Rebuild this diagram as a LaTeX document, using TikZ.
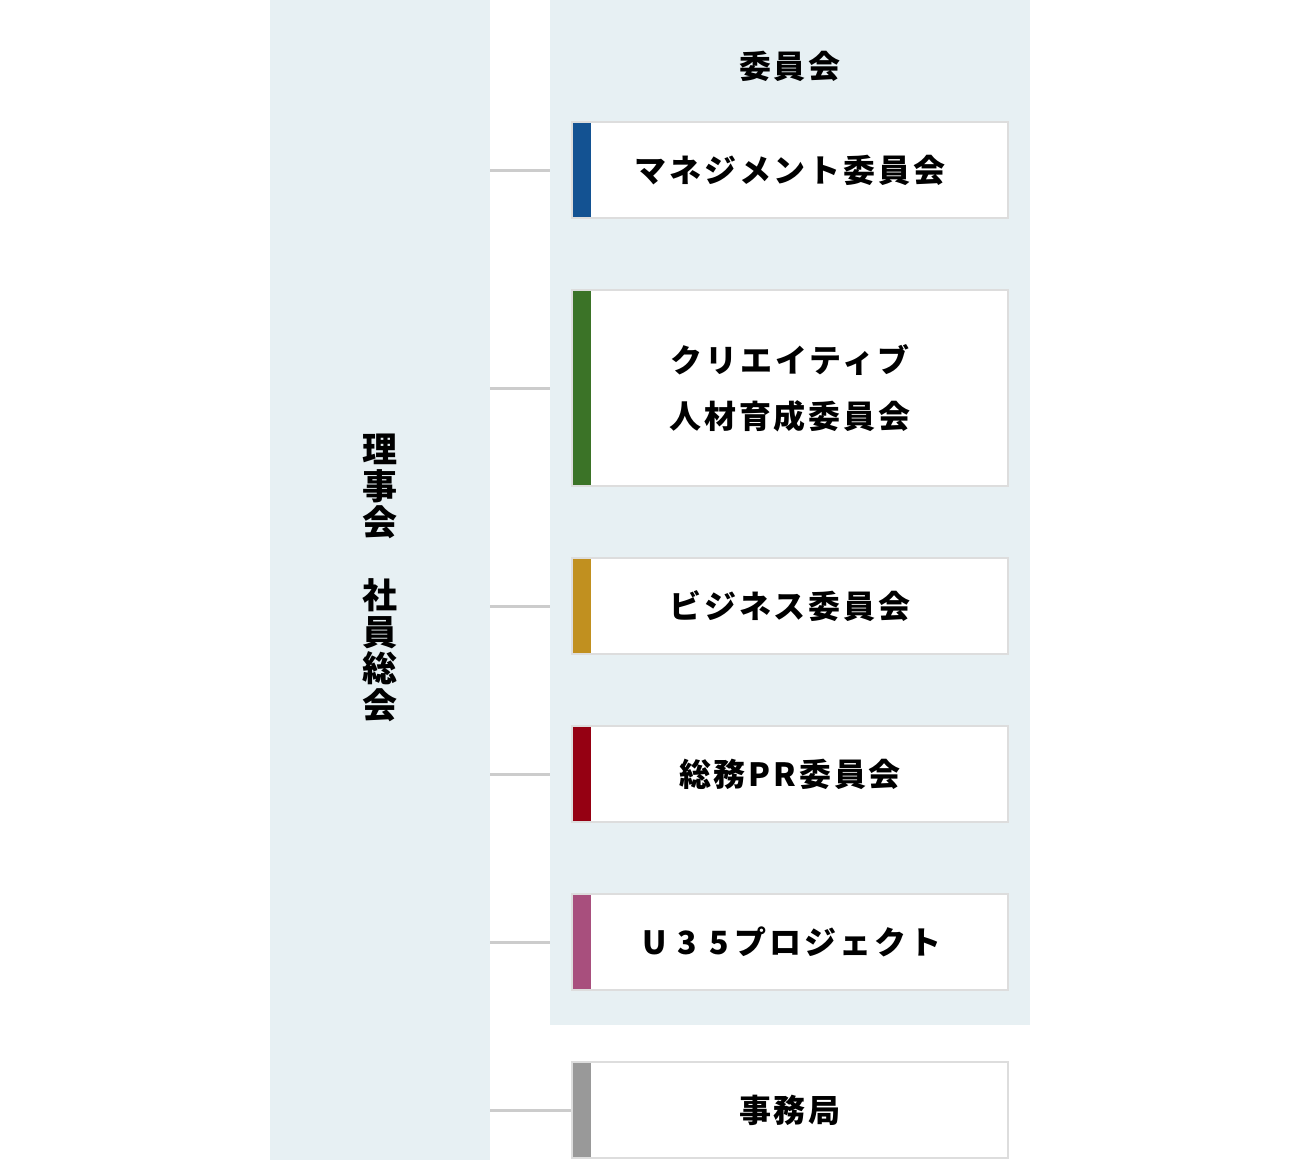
\documentclass[tikz,border=0pt]{standalone}
\usepackage{fontspec}
\setmainfont{Noto Sans CJK JP}[LetterSpace=9]
\usetikzlibrary{positioning}
\definecolor{panelbg}{HTML}{E7F0F3}
\definecolor{linkgray}{HTML}{CCCCCC}
\definecolor{boxline}{HTML}{DDDDDD}
\definecolor{mgmt}{HTML}{135292}
\definecolor{creative}{HTML}{3B7327}
\definecolor{business}{HTML}{C1901F}
\definecolor{generalpr}{HTML}{950012}
\definecolor{youth}{HTML}{A84F7D}
\definecolor{office}{HTML}{999999}

\begin{document}
\begin{tikzpicture}[x=1pt,y=-1pt,
  panel/.style={fill=panelbg,inner sep=0pt,outer sep=0pt},
  cmtbox/.style={draw=boxline,line width=2pt,fill=white,
    minimum width=436pt,minimum height=96pt,inner sep=0pt,
    align=center,font=\fontsize{32}{56}\selectfont\bfseries,
    path picture={\fill[#1] (path picture bounding box.south west)
      rectangle ([xshift=19pt]path picture bounding box.north west);}},
  link/.style={draw=linkgray,line width=3pt}]
  \useasboundingbox (0,0) rectangle (1300,1160);

  % backgrounds
  \node[panel,minimum width=220pt,minimum height=1160pt] (board) at (380,580) {};
  \node[panel,minimum width=480pt,minimum height=1025pt] (cmtpanel) at (790,512.5) {};

  % board label, set one character per line
  \node[align=center,font=\fontsize{35}{36.5}\selectfont\bfseries,inner sep=0pt]
    (boardlabel) at (380,578) {理\\事\\会\\~\\社\\員\\総\\会};

  % committees
  \node[font=\fontsize{32}{40}\selectfont\bfseries] (cmttitle) at (790,66) {委員会};
  \node[cmtbox=mgmt] (mgmt) at (790,170) {マネジメント委員会};
  \node[cmtbox=creative,minimum height=196pt] (creative) at (790,388)
    {クリエイティブ\\人材育成委員会};
  \node[cmtbox=business] (business) at (790,606) {ビジネス委員会};
  \node[cmtbox=generalpr] (generalpr) at (790,774) {総務PR委員会};
  \node[cmtbox=youth] (youth) at (790,942)
    {\makebox[1em]{U}\makebox[1em]{3}\makebox[1em]{5}プロジェクト};
  \node[cmtbox=office] (office) at (790,1110) {事務局};

  % links from the board
  \foreach \c in {mgmt,creative,business,generalpr,youth}
    \draw[link] (board.east |- \c.west) -- (cmtpanel.west |- \c.west);
  \draw[link] (board.east |- office.west) -- (office.west);
\end{tikzpicture}
\end{document}
